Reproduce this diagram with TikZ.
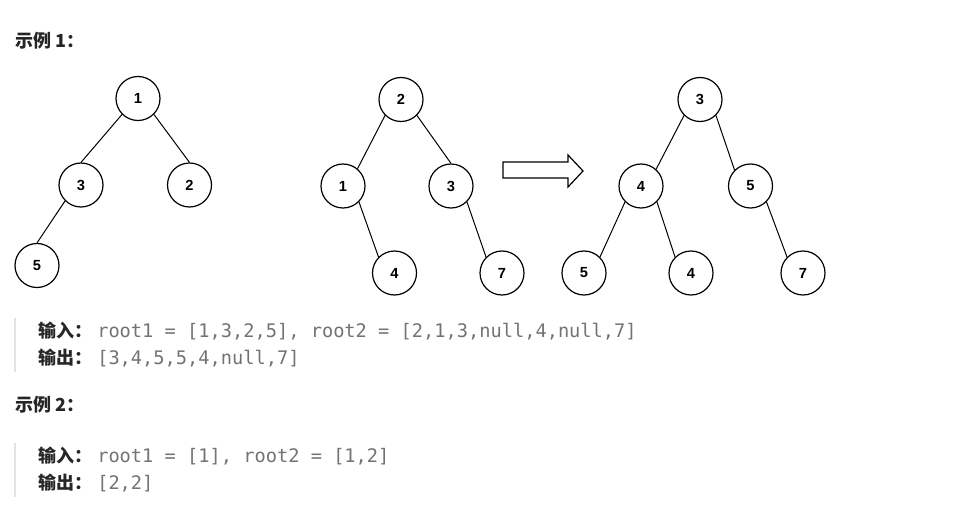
\documentclass[tikz,border=0pt]{standalone}
\usepackage{fontspec}
\newfontfamily\cjk{Noto Sans CJK SC}
\newfontfamily\numfont{Liberation Sans}
\newfontfamily\codefont{DejaVu Sans Mono}
\definecolor{ink}{HTML}{262626}
\definecolor{codegray}{HTML}{737373}
\definecolor{barcol}{HTML}{E3E3E3}
\begin{document}
\begin{tikzpicture}[x=0.75pt,y=-0.75pt,
  tn/.style={circle,draw=black,line width=0.9pt,minimum size=33pt,inner sep=0pt,
    font=\numfont\bfseries\fontsize{11}{13}\selectfont},
  edge/.style={draw=black,line width=0.75pt},
  title/.style={anchor=base west,inner sep=0pt,text=ink,
    font=\cjk\bfseries\fontsize{13.5}{15}\selectfont},
  codetxt/.style={anchor=base west,inner sep=0pt,text=codegray,
    font=\codefont\fontsize{14}{16}\selectfont},
  bar/.style={draw=barcol,line width=1.5pt},
  bigarrow/.style={draw=black,line width=0.9pt,line join=miter}]
\useasboundingbox (0,0) rectangle (977,513);

% titles
\node[title] (t1) at (15,47.5) {示例 1：};
\node[title] (t2) at (15,411) {示例 2：};

% tree 1
\node[tn] (a1) at (138,98.5) {1};
\node[tn] (a3) at (81,185) {3};
\node[tn] (a2) at (189.5,185) {2};
\node[tn] (a5) at (37,265.5) {5};
\draw[edge] (a1.225) -- (a3.90);
\draw[edge] (a1.315) -- (a2.90);
\draw[edge] (a3.225) -- (a5.90);

% tree 2
\node[tn] (b2) at (401,99.5) {2};
\node[tn] (b1) at (343,186) {1};
\node[tn] (b3) at (451,186) {3};
\node[tn] (b4) at (394.5,273) {4};
\node[tn] (b7) at (502,273) {7};
\draw[edge] (b2.225) -- (b1.50);
\draw[edge] (b2.315) -- (b3.90);
\draw[edge] (b1.315) -- (b4.135);
\draw[edge] (b3.315) -- (b7.135);

% arrow
\draw[bigarrow] (503,162) -- (568,162) -- (568,155) -- (583,171) -- (568,187)
  -- (568,178) -- (503,178) -- cycle;

% tree 3
\node[tn] (c3) at (700,99.5) {3};
\node[tn] (c4) at (641,186) {4};
\node[tn] (c5) at (750.5,186) {5};
\node[tn] (c5b) at (584,273) {5};
\node[tn] (c4b) at (691,273) {4};
\node[tn] (c7) at (803,273) {7};
\draw[edge] (c3.225) -- (c4.48);
\draw[edge] (c3.315) -- (c5.135);
\draw[edge] (c4.225) -- (c5b.45);
\draw[edge] (c4.315) -- (c4b.135);
\draw[edge] (c5.315) -- (c7.135);

% example 1 text
\draw[bar] (15,318) -- (15,372);
\node[title] (in1) at (38,337) {输入：};
\node[codetxt] (in1c) at (97,337) {root1 = [1,3,2,5], root2 = [2,1,3,null,4,null,7]};
\node[title] (out1) at (38,364) {输出：};
\node[codetxt] (out1c) at (97,364) {[3,4,5,5,4,null,7]};

% example 2 text
\draw[bar] (15,443) -- (15,497);
\node[title] (in2) at (38,462) {输入：};
\node[codetxt] (in2c) at (97,462) {root1 = [1], root2 = [1,2]};
\node[title] (out2) at (38,489) {输出：};
\node[codetxt] (out2c) at (97,489) {[2,2]};
\end{tikzpicture}
\end{document}
